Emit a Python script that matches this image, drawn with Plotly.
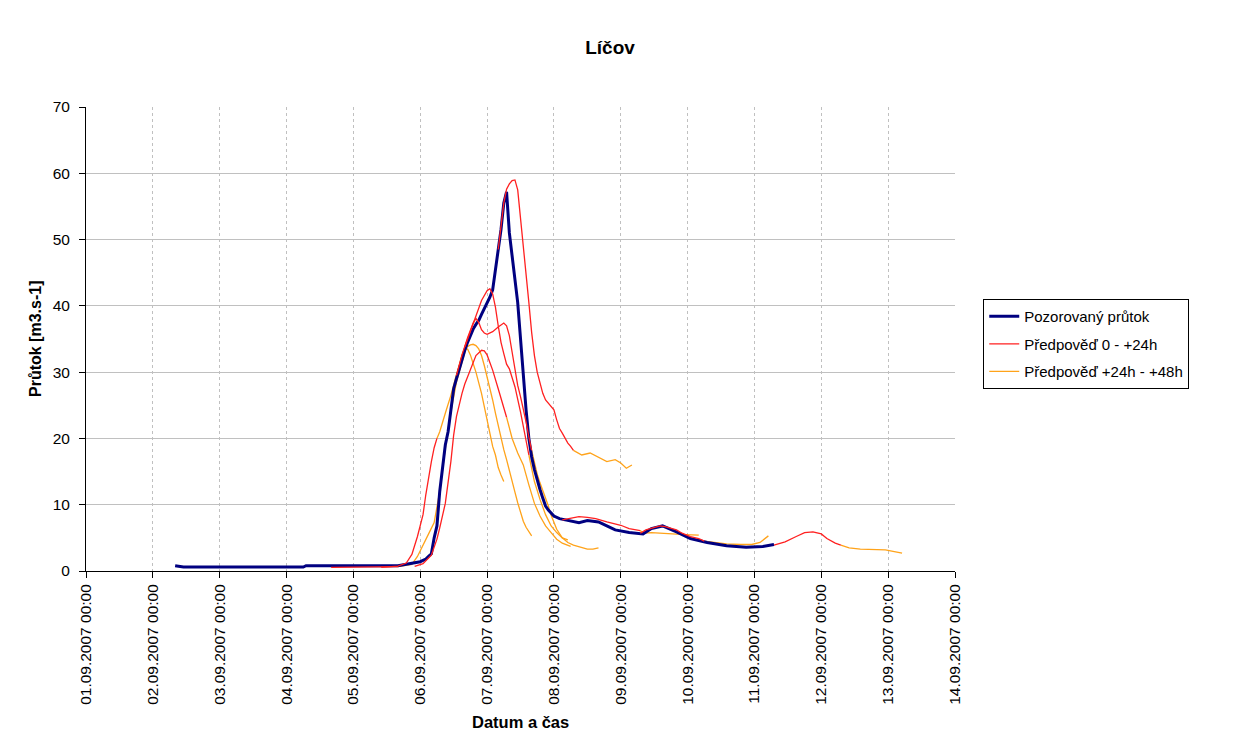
import plotly.graph_objects as go

# ---------------- data ----------------
obs_time = ["2007-09-02 08:00", "2007-09-02 10:00", "2007-09-02 11:00", "2007-09-04 06:00", "2007-09-04 07:00",
            "2007-09-05 16:00", "2007-09-05 20:00",
            "2007-09-06 00:00", "2007-09-06 01:00", "2007-09-06 02:00", "2007-09-06 03:00", "2007-09-06 04:00",
            "2007-09-06 05:00", "2007-09-06 06:00", "2007-09-06 07:00", "2007-09-06 08:00", "2007-09-06 09:00",
            "2007-09-06 10:00", "2007-09-06 11:00", "2007-09-06 12:00", "2007-09-06 13:00", "2007-09-06 14:00",
            "2007-09-06 15:00", "2007-09-06 16:00", "2007-09-06 17:00", "2007-09-06 18:00", "2007-09-06 19:00",
            "2007-09-06 20:00", "2007-09-06 21:00", "2007-09-06 22:00", "2007-09-06 23:00",
            "2007-09-07 00:00", "2007-09-07 01:00", "2007-09-07 02:00", "2007-09-07 03:00", "2007-09-07 04:00",
            "2007-09-07 05:00", "2007-09-07 06:00", "2007-09-07 07:00", "2007-09-07 08:00", "2007-09-07 09:00",
            "2007-09-07 10:00", "2007-09-07 11:00", "2007-09-07 12:00", "2007-09-07 13:00", "2007-09-07 14:00",
            "2007-09-07 15:00", "2007-09-07 16:00", "2007-09-07 17:00", "2007-09-07 18:00", "2007-09-07 19:00",
            "2007-09-07 20:00", "2007-09-07 21:00", "2007-09-07 22:00", "2007-09-07 23:00",
            "2007-09-08 00:00", "2007-09-08 02:00", "2007-09-08 05:00", "2007-09-08 09:00", "2007-09-08 12:00",
            "2007-09-08 16:00", "2007-09-08 19:00", "2007-09-08 22:00",
            "2007-09-09 03:00", "2007-09-09 08:00", "2007-09-09 11:00", "2007-09-09 15:00", "2007-09-09 20:00",
            "2007-09-10 01:00", "2007-09-10 07:00", "2007-09-10 14:00", "2007-09-10 21:00",
            "2007-09-11 03:00", "2007-09-11 07:00"]
obs_q = [0.8, 0.7, 0.6, 0.6, 0.8,
         0.8, 1.1,
         1.4, 1.6, 1.8, 2.2, 2.6, 5.0, 6.8, 12.0, 15.6, 19.0, 21.0, 24.5, 27.5, 29.0, 30.5, 32.0, 33.3, 34.5,
         35.6, 36.5, 37.2, 37.8, 38.7, 39.5,
         40.3, 41.3, 42.4, 45.5, 48.5, 51.5, 55.5, 57.2, 51.0, 47.0, 44.0, 40.5, 35.0, 29.0, 24.3, 20.0, 17.2,
         15.3, 13.6, 12.3, 11.0, 9.8, 9.2, 8.7,
         8.3, 7.9, 7.6, 7.3, 7.6, 7.4, 6.8, 6.2,
         5.8, 5.6, 6.4, 6.8, 5.9,
         4.9, 4.3, 3.8, 3.6,
         3.7, 4.0]

# forecast 1
fc1_red_time = ["2007-09-04 16:00", "2007-09-05 16:00"]
fc1_red_q = [0.55, 0.65]
fc1_or_time = ["2007-09-05 16:00", "2007-09-05 19:00", "2007-09-05 21:00", "2007-09-05 23:00", "2007-09-06 01:00",
               "2007-09-06 03:00", "2007-09-06 05:00", "2007-09-06 07:00", "2007-09-06 09:00", "2007-09-06 11:00",
               "2007-09-06 13:00", "2007-09-06 15:00", "2007-09-06 16:00"]
fc1_or_q = [0.65, 0.9, 1.0, 2.2, 3.8, 5.6, 7.3, 12.0, 18.5, 24.0, 28.5, 31.5, 33.0]

# forecast 2
fc2_red_time = ["2007-09-05 10:00", "2007-09-05 16:00", "2007-09-05 19:00", "2007-09-05 21:00", "2007-09-05 23:00",
                "2007-09-06 00:00", "2007-09-06 01:00", "2007-09-06 02:00", "2007-09-06 03:00", "2007-09-06 04:00",
                "2007-09-06 05:00", "2007-09-06 06:00"]
fc2_red_q = [0.55, 0.75, 1.2, 2.5, 5.2, 6.7, 8.5, 11.5, 14.2, 16.5, 18.6, 20.0]
fc2_or_time = ["2007-09-06 06:00", "2007-09-06 07:00", "2007-09-06 09:00", "2007-09-06 11:00", "2007-09-06 13:00",
               "2007-09-06 15:00", "2007-09-06 16:00", "2007-09-06 17:00", "2007-09-06 18:00", "2007-09-06 20:00",
               "2007-09-06 22:00", "2007-09-06 23:00", "2007-09-07 00:00", "2007-09-07 01:00", "2007-09-07 02:00",
               "2007-09-07 03:00", "2007-09-07 04:00", "2007-09-07 05:00", "2007-09-07 06:00"]
fc2_or_q = [20.0, 21.0, 23.8, 26.5, 29.6, 32.5, 33.4, 33.5, 32.6, 30.0, 26.8, 24.8, 22.3, 20.6, 18.8, 17.5,
            15.6, 14.5, 13.5]

# forecast 3
fc3_or_time = ["2007-09-06 13:00", "2007-09-06 14:00", "2007-09-06 15:00", "2007-09-06 16:00", "2007-09-06 18:00",
               "2007-09-06 19:00", "2007-09-06 20:00", "2007-09-06 21:00", "2007-09-06 22:00", "2007-09-06 23:00",
               "2007-09-07 00:00", "2007-09-07 01:00", "2007-09-07 02:00", "2007-09-07 03:00", "2007-09-07 04:00",
               "2007-09-07 05:00", "2007-09-07 06:00", "2007-09-07 07:00", "2007-09-07 08:00", "2007-09-07 09:00",
               "2007-09-07 10:00", "2007-09-07 11:00", "2007-09-07 12:00", "2007-09-07 13:00", "2007-09-07 14:00",
               "2007-09-07 15:00", "2007-09-07 16:00"]
fc3_or_q = [29.0, 31.0, 32.6, 33.6, 34.1, 34.2, 34.0, 33.5, 32.5, 31.0, 29.4, 27.6, 25.8, 23.8, 21.9, 20.0,
            18.3, 16.8, 15.3, 13.6, 11.9, 10.3, 8.8, 7.5, 6.6, 5.9, 5.3]

# forecast 4
fc4_red_time = ["2007-09-05 22:00", "2007-09-06 01:00", "2007-09-06 04:00", "2007-09-06 06:00", "2007-09-06 07:00",
                "2007-09-06 09:00", "2007-09-06 11:00", "2007-09-06 12:00", "2007-09-06 13:00", "2007-09-06 14:00",
                "2007-09-06 15:00", "2007-09-06 16:00", "2007-09-06 18:00", "2007-09-06 20:00", "2007-09-06 22:00",
                "2007-09-06 23:00", "2007-09-07 00:00", "2007-09-07 02:00", "2007-09-07 04:00", "2007-09-07 06:00",
                "2007-09-07 07:00"]
fc4_red_q = [0.7, 1.1, 2.4, 4.8, 6.5, 10.2, 16.5, 20.5, 23.3, 25.2, 26.8, 28.2, 30.5, 32.5, 33.3, 33.2, 32.6,
             30.3, 27.5, 24.6, 23.2]
fc4_or_time = ["2007-09-07 07:00", "2007-09-07 09:00", "2007-09-07 11:00", "2007-09-07 13:00", "2007-09-07 15:00",
               "2007-09-07 17:00", "2007-09-07 19:00", "2007-09-07 21:00", "2007-09-07 23:00", "2007-09-08 01:00",
               "2007-09-08 03:00", "2007-09-08 06:00"]
fc4_or_q = [23.2, 20.0, 17.8, 16.0, 13.0, 10.2, 8.3, 6.8, 5.8, 4.8, 4.2, 3.7]

# forecast 5
fc5_red_time = ["2007-09-06 13:00", "2007-09-06 15:00", "2007-09-06 17:00", "2007-09-06 19:00", "2007-09-06 20:00",
                "2007-09-06 21:00", "2007-09-06 22:00", "2007-09-06 23:00", "2007-09-07 00:00", "2007-09-07 02:00",
                "2007-09-07 04:00", "2007-09-07 06:00", "2007-09-07 07:00", "2007-09-07 08:00", "2007-09-07 09:00",
                "2007-09-07 10:00", "2007-09-07 11:00", "2007-09-07 12:00", "2007-09-07 13:00", "2007-09-07 14:00",
                "2007-09-07 15:00", "2007-09-07 16:00"]
fc5_red_q = [29.5, 32.6, 35.2, 37.4, 38.1, 37.5, 36.4, 35.9, 35.7, 36.1, 36.8, 37.4, 37.0, 35.5, 33.0, 30.5,
             28.0, 26.3, 24.6, 22.5, 20.2, 18.2]
fc5_or_time = ["2007-09-07 16:00", "2007-09-07 17:00", "2007-09-07 18:00", "2007-09-07 19:00", "2007-09-07 20:00",
               "2007-09-07 21:00", "2007-09-07 22:00", "2007-09-07 23:00", "2007-09-08 00:00", "2007-09-08 01:00",
               "2007-09-08 03:00", "2007-09-08 05:00", "2007-09-08 07:00", "2007-09-08 09:00", "2007-09-08 12:00",
               "2007-09-08 14:00", "2007-09-08 16:00"]
fc5_or_q = [18.2, 16.2, 14.6, 13.3, 12.2, 11.2, 9.8, 8.4, 7.3, 6.3, 5.0, 4.3, 3.9, 3.7, 3.3, 3.3, 3.5]

# forecast 6
fc6_red_time = ["2007-09-06 16:00", "2007-09-06 18:00", "2007-09-06 20:00", "2007-09-06 22:00", "2007-09-07 00:00",
                "2007-09-07 01:00", "2007-09-07 02:00", "2007-09-07 03:00", "2007-09-07 04:00", "2007-09-07 05:00",
                "2007-09-07 06:00", "2007-09-07 07:00", "2007-09-07 08:00", "2007-09-07 10:00", "2007-09-07 12:00",
                "2007-09-07 13:00", "2007-09-07 14:00", "2007-09-07 15:00"]
fc6_red_q = [33.8, 36.2, 38.4, 40.8, 42.3, 42.6, 41.8, 39.8, 37.0, 34.5, 32.8, 31.2, 30.5, 27.8, 24.0, 22.0,
             19.8, 17.5]
fc6_or_time = ["2007-09-07 15:00", "2007-09-07 17:00", "2007-09-07 19:00", "2007-09-07 21:00", "2007-09-07 23:00",
               "2007-09-08 01:00", "2007-09-08 03:00", "2007-09-08 05:00"]
fc6_or_q = [17.5, 13.5, 10.8, 8.5, 6.8, 5.8, 5.0, 4.7]

# forecast 7
fc7_red_time = ["2007-09-07 04:00", "2007-09-07 05:00", "2007-09-07 06:00", "2007-09-07 07:00", "2007-09-07 08:00",
                "2007-09-07 09:00", "2007-09-07 10:00", "2007-09-07 11:00", "2007-09-07 12:00", "2007-09-07 13:00",
                "2007-09-07 14:00", "2007-09-07 15:00", "2007-09-07 16:00", "2007-09-07 17:00", "2007-09-07 18:00",
                "2007-09-07 19:00", "2007-09-07 20:00", "2007-09-07 21:00", "2007-09-07 22:00", "2007-09-07 23:00",
                "2007-09-08 00:00", "2007-09-08 01:00", "2007-09-08 02:00", "2007-09-08 03:00", "2007-09-08 04:00",
                "2007-09-08 05:00", "2007-09-08 06:00", "2007-09-08 07:00"]
fc7_red_q = [48.5, 51.8, 55.5, 57.6, 58.4, 58.9, 59.0, 57.5, 53.5, 49.0, 44.5, 40.5, 36.0, 32.5, 30.0, 28.5,
             26.8, 25.8, 25.3, 24.7, 24.3, 22.8, 21.5, 20.8, 20.0, 19.3, 18.8, 18.2]
fc7_or_time = ["2007-09-08 07:00", "2007-09-08 10:00", "2007-09-08 13:00", "2007-09-08 16:00", "2007-09-08 19:00",
               "2007-09-08 22:00", "2007-09-09 00:00", "2007-09-09 02:00", "2007-09-09 04:00"]
fc7_or_q = [18.2, 17.5, 17.8, 17.1, 16.5, 16.8, 16.3, 15.5, 16.0]

# forecast 8
fc8_red_time = ["2007-09-08 03:00", "2007-09-08 06:00", "2007-09-08 09:00", "2007-09-08 12:00", "2007-09-08 15:00",
                "2007-09-08 19:00", "2007-09-09 00:00", "2007-09-09 03:00", "2007-09-09 07:00"]
fc8_red_q = [7.7, 7.9, 8.2, 8.1, 7.9, 7.4, 6.9, 6.4, 6.1]
fc8_or_time = ["2007-09-09 07:00", "2007-09-09 08:00", "2007-09-09 11:00", "2007-09-09 17:00", "2007-09-09 23:00",
               "2007-09-10 04:00"]
fc8_or_q = [6.1, 5.7, 5.8, 5.7, 5.5, 5.4]

# forecast 9
fc9_red_time = ["2007-09-09 07:00", "2007-09-09 09:00", "2007-09-09 14:00", "2007-09-09 16:00", "2007-09-09 20:00",
                "2007-09-09 22:00", "2007-09-10 01:00", "2007-09-10 04:00", "2007-09-10 06:00"]
fc9_red_q = [5.7, 6.2, 6.8, 6.7, 6.2, 5.7, 5.2, 4.9, 4.5]
fc9_or_time = ["2007-09-10 06:00", "2007-09-10 10:00", "2007-09-10 14:00", "2007-09-10 19:00", "2007-09-10 23:00",
               "2007-09-11 02:00", "2007-09-11 05:00"]
fc9_or_q = [4.5, 4.3, 4.1, 4.0, 4.0, 4.3, 5.3]

# forecast 10
fc10_red_time = ["2007-09-11 07:00", "2007-09-11 11:00", "2007-09-11 15:00", "2007-09-11 18:00", "2007-09-11 21:00",
                 "2007-09-12 00:00", "2007-09-12 02:00", "2007-09-12 05:00", "2007-09-12 07:00"]
fc10_red_q = [3.9, 4.4, 5.2, 5.8, 5.9, 5.6, 4.9, 4.2, 3.9]
fc10_or_time = ["2007-09-12 07:00", "2007-09-12 10:00", "2007-09-12 14:00", "2007-09-12 19:00", "2007-09-12 23:00",
                "2007-09-13 05:00"]
fc10_or_q = [3.9, 3.5, 3.3, 3.3, 3.2, 2.7]

tick_days = ["2007-09-%02d" % d for d in range(1, 15)]

red_segments = [(fc1_red_time, fc1_red_q), (fc2_red_time, fc2_red_q), (fc4_red_time, fc4_red_q),
                (fc5_red_time, fc5_red_q), (fc6_red_time, fc6_red_q), (fc7_red_time, fc7_red_q),
                (fc8_red_time, fc8_red_q), (fc9_red_time, fc9_red_q), (fc10_red_time, fc10_red_q)]
orange_segments = [(fc1_or_time, fc1_or_q), (fc2_or_time, fc2_or_q), (fc3_or_time, fc3_or_q),
                   (fc4_or_time, fc4_or_q), (fc5_or_time, fc5_or_q), (fc6_or_time, fc6_or_q),
                   (fc7_or_time, fc7_or_q), (fc8_or_time, fc8_or_q), (fc9_or_time, fc9_or_q),
                   (fc10_or_time, fc10_or_q)]


def join(segs):
    xs, ys = [], []
    for t, q in segs:
        xs += list(t) + [None]
        ys += list(q) + [None]
    return xs, ys


FONT = "Liberation Sans, Arial, sans-serif"
ox, oy = join(orange_segments)
rx, ry = join(red_segments)

FW, FH = 1255, 736

fig = go.Figure()
fig.add_trace(go.Scatter(x=ox, y=oy, mode="lines", name="Předpověď +24h - +48h",
                         line=dict(color="#ffa31a", width=1.3), legendrank=3, legendgroup="c",
                         connectgaps=False))
fig.add_trace(go.Scatter(x=obs_time, y=obs_q, mode="lines", name="Pozorovaný průtok",
                         line=dict(color="#000080", width=3), legendrank=1, legendgroup="a"))
fig.add_trace(go.Scatter(x=rx, y=ry, mode="lines", name="Předpověď 0 - +24h",
                         line=dict(color="#ff2020", width=1.3), legendrank=2, legendgroup="b",
                         connectgaps=False))

fig.update_layout(
    width=FW, height=FH,
    margin=dict(l=86, r=FW - 86 - 869, t=107, b=FH - 107 - 464, autoexpand=False),
    paper_bgcolor="white", plot_bgcolor="white",
    font=dict(family=FONT, size=15, color="black"),
    title=dict(text="<b>Líčov</b>", x=610 / FW, xref="container", xanchor="center",
               y=1 - 47 / FH, yref="container", yanchor="middle",
               font=dict(family=FONT, size=19, color="black")),
    showlegend=True,
    legend=dict(x=1.0325, xanchor="left", y=0.586, yanchor="top", bgcolor="white",
                bordercolor="black", borderwidth=1, font=dict(family=FONT, size=15),
                traceorder="grouped", tracegroupgap=5),
    xaxis=dict(type="date", range=["2007-09-01 00:00", "2007-09-14 00:00"],
               tickmode="array", tickvals=tick_days,
               ticktext=[d[8:10] + "." + d[5:7] + "." + d[0:4] + " 00:00" for d in tick_days],
               tickangle=-90, ticks="outside", ticklen=6, tickcolor="black",
               showline=True, linecolor="black", linewidth=1,
               showgrid=True, gridcolor="#c0c0c0", griddash="3px,3px", gridwidth=1,
               zeroline=False, tickfont=dict(family=FONT, size=15.5)),
    yaxis=dict(range=[0, 70], dtick=10, tick0=0, ticks="outside", ticklen=6, tickcolor="black",
               showline=True, linecolor="black", linewidth=1,
               showgrid=True, gridcolor="#c0c0c0", gridwidth=1, zeroline=False,
               ticklabelstandoff=6, tickfont=dict(family=FONT, size=15.5)),
    annotations=[
        dict(text="<b>Průtok [m3.s-1]</b>", xref="paper", yref="paper", x=(35 - 86) / 869, y=0.5,
             xanchor="center", yanchor="middle", textangle=-90, showarrow=False,
             font=dict(family=FONT, size=16, color="black")),
        dict(text="<b>Datum a čas</b>", xref="paper", yref="paper", x=(520 - 86) / 869, y=(571 - 722) / 464,
             xanchor="center", yanchor="middle", showarrow=False,
             font=dict(family=FONT, size=16.5, color="black")),
    ],
)

# remove the browser's default 8px page margin so the figure fills the window exactly
fig.write_html("out.html", config={"displayModeBar": False},
               post_script="document.body.style.margin='0px';document.body.style.overflow='hidden';")
